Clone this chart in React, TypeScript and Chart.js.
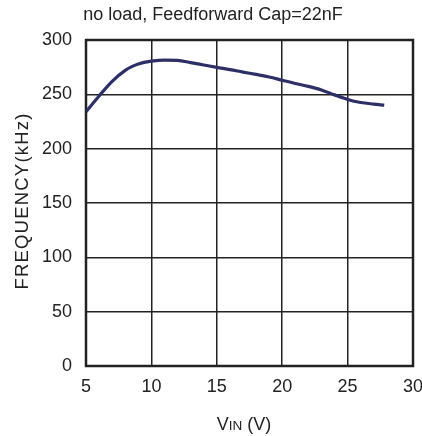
import React, { useEffect, useRef } from "react";
import { Chart, registerables } from "chart.js";

Chart.register(...registerables);

const vinValues = [5, 6, 7, 8, 8.5, 9, 10, 11, 12, 13, 14, 15, 16, 17, 18, 19, 20, 21, 22, 23, 24, 25, 26, 27, 27.8];
const freqValues = [234, 248.5, 262, 272, 275.5, 278, 280.5, 281.5, 281.3, 279.2, 277, 274.8, 272.8, 270.5, 268.3, 266, 263, 260, 257.3, 254, 249.5, 245.3, 242.5, 241, 240];
const xTicks = [5, 10, 15, 20, 25, 30];
const yTicks = [0, 50, 100, 150, 200, 250, 300];
const chartTitle = "no load, Feedforward Cap=22nF";
const yTitle = "FREQUENCY(kHz)";
const xTitleMain = "V";
const xTitleSub = "IN";
const xTitleRest = " (V)";

const FONT = "'Liberation Sans', Arial, Helvetica, sans-serif";
const GRID = "#222222";

const decorPlugin = {
  id: "decor",
  beforeDatasetsDraw(chart: any) {
    const { ctx, chartArea } = chart;
    ctx.save();
    ctx.strokeStyle = GRID;
    ctx.lineWidth = 2.5;
    ctx.strokeRect(chartArea.left, chartArea.top, chartArea.right - chartArea.left, chartArea.bottom - chartArea.top);
    ctx.restore();
  },
  afterDraw(chart: any) {
    const { ctx, chartArea } = chart;
    ctx.save();
    ctx.fillStyle = "#222222";
    // chart title
    ctx.font = `18px ${FONT}`;
    ctx.textAlign = "center";
    ctx.textBaseline = "alphabetic";
    ctx.fillText(chartTitle, 213, 19.5);
    // y title
    ctx.save();
    ctx.translate(23, (chartArea.top + chartArea.bottom) / 2 - 2);
    ctx.rotate(-Math.PI / 2);
    ctx.font = `18.5px ${FONT}`;
    (ctx as any).letterSpacing = "1.2px";
    ctx.textAlign = "center";
    ctx.textBaseline = "middle";
    ctx.fillText(yTitle, 0, 0);
    (ctx as any).letterSpacing = "0px";
    ctx.restore();
    // x title with small "IN"
    const big = `18px ${FONT}`;
    const small = `13.5px ${FONT}`;
    ctx.font = big;
    const w1 = ctx.measureText(xTitleMain).width;
    const w3 = ctx.measureText(xTitleRest).width;
    ctx.font = small;
    const w2 = ctx.measureText(xTitleSub).width;
    const total = w1 + w2 + w3;
    let x = 244 - total / 2;
    const baseY = 430;
    ctx.textAlign = "left";
    ctx.font = big;
    ctx.fillText(xTitleMain, x, baseY);
    x += w1;
    ctx.font = small;
    ctx.fillText(xTitleSub, x, baseY);
    x += w2;
    ctx.font = big;
    ctx.fillText(xTitleRest, x, baseY);
    ctx.restore();
  },
};

export default function App() {
  const ref = useRef<HTMLCanvasElement>(null);
  useEffect(() => {
    if (!ref.current) return;
    const chart = new Chart(ref.current, {
      type: "line",
      data: {
        datasets: [
          {
            data: vinValues.map((v, i) => ({ x: v, y: freqValues[i] })),
            borderColor: "#2d2f66",
            borderWidth: 3.2,
            pointRadius: 0,
            cubicInterpolationMode: "monotone",
            fill: false,
          },
        ],
      },
      options: {
        animation: false,
        responsive: false,
        devicePixelRatio: 1,
        layout: { padding: { top: 40, right: 9, bottom: 0, left: 0 } },
        plugins: { legend: { display: false }, title: { display: false }, tooltip: { enabled: false } },
        scales: {
          x: {
            type: "linear",
            min: 5,
            max: 30,
            afterBuildTicks: (s: any) => {
              s.ticks = xTicks.map((v) => ({ value: v }));
            },
            afterFit: (s: any) => {
              s.height = 70;
              s.paddingLeft = 0;
              s.paddingRight = 0;
            },
            grid: { color: GRID, lineWidth: 1.5, drawTicks: false },
            border: { display: false },
            ticks: { color: "#222222", font: { family: FONT, size: 18 }, padding: 10, maxRotation: 0 },
          },
          y: {
            type: "linear",
            min: 0,
            max: 300,
            afterBuildTicks: (s: any) => {
              s.ticks = yTicks.map((v) => ({ value: v }));
            },
            afterFit: (s: any) => {
              s.width = 86;
              s.paddingTop = 0;
              s.paddingBottom = 0;
            },
            grid: { color: GRID, lineWidth: 1.5, drawTicks: false },
            border: { display: false },
            ticks: { color: "#222222", font: { family: FONT, size: 18 }, padding: 14 },
          },
        },
      },
      plugins: [decorPlugin],
    });
    return () => chart.destroy();
  }, []);
  return (
    <div style={{ position: "absolute", left: 0, top: 0, width: 422, height: 436, background: "#fff" }}>
      <canvas ref={ref} width={422} height={436} />
    </div>
  );
}
